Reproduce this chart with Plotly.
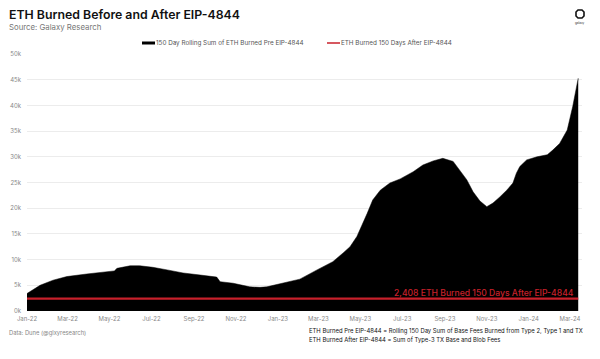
import plotly.graph_objects as go

# ---- data ----
dates = [
    "2022-01-01", "2022-01-10", "2022-01-20", "2022-02-08", "2022-02-28", "2022-03-29",
    "2022-05-02", "2022-05-08", "2022-05-12", "2022-05-31", "2022-06-14", "2022-07-03",
    "2022-07-24", "2022-08-16", "2022-09-10", "2022-10-04", "2022-10-09", "2022-10-28",
    "2022-11-21", "2022-12-06", "2022-12-16", "2023-01-08", "2023-02-02", "2023-02-27",
    "2023-03-22", "2023-04-06", "2023-04-16", "2023-04-26", "2023-05-05", "2023-05-11",
    "2023-05-19", "2023-05-30", "2023-06-13", "2023-06-28", "2023-07-17", "2023-07-31",
    "2023-08-15", "2023-08-29", "2023-09-13", "2023-09-23", "2023-10-03", "2023-10-12",
    "2023-10-22", "2023-11-01", "2023-11-10", "2023-11-20", "2023-11-30", "2023-12-09",
    "2023-12-14", "2023-12-19", "2023-12-29", "2024-01-13", "2024-01-28", "2024-02-05",
    "2024-02-15", "2024-02-26", "2024-03-05", "2024-03-13",
]
eth_burned_pre = [
    3400, 4200, 5000, 6000, 6700, 7200,
    7600, 7800, 8300, 8800, 8800, 8500,
    8000, 7400, 7000, 6600, 5700, 5400,
    4700, 4600, 4700, 5400, 6200, 8000,
    9600, 11300, 12500, 14500, 17100, 19000,
    21600, 23500, 24900, 25700, 27100, 28400,
    29200, 29700, 29100, 27400, 25500, 23200,
    21400, 20300, 21000, 22200, 23500, 24900,
    26800, 28100, 29400, 30000, 30400, 31300,
    32600, 35200, 39800, 45300,
]
after_dates = ["2022-01-01", "2024-03-13"]
after_value = 2408
after_values = [after_value, after_value]

series_names = ["150 Day Rolling Sum of ETH Burned Pre EIP-4844",
                "ETH Burned 150 Days After EIP-4844"]

y_tickvals = [0, 5000, 10000, 15000, 20000, 25000, 30000, 35000, 40000, 45000, 50000]
y_ticktext = ["0k", "5k", "10k", "15k", "20k", "25k", "30k", "35k", "40k", "45k", "50k"]
x_tickvals = ["2022-01-01", "2022-03-01", "2022-05-01", "2022-07-01", "2022-09-01", "2022-11-01",
              "2023-01-01", "2023-03-01", "2023-05-01", "2023-07-01", "2023-09-01", "2023-11-01",
              "2024-01-01", "2024-03-01"]
x_ticktext = ["Jan-22", "Mar-22", "May-22", "Jul-22", "Sep-22", "Nov-22",
              "Jan-23", "Mar-23", "May-23", "Jul-23", "Sep-23", "Nov-23",
              "Jan-24", "Mar-24"]

# ---- layout geometry (window pixels; page body has an 8px margin) ----
OFF = 8
W, H = 600, 359
L, R, T, B = 27, 582, 54, 311
FONT = "Inter, Lato, sans-serif"
RED = "#c8202b"


def px_x(x):
    return (x - L) / (R - L)


def px_y(y):
    return (B - y) / (B - T)


fig = go.Figure()
fig.add_trace(go.Scatter(
    x=dates, y=eth_burned_pre, mode="lines", fill="tozeroy",
    line=dict(color="#000000", width=0.5), fillcolor="#000000",
    name=series_names[0], showlegend=False,
))
fig.add_trace(go.Scatter(
    x=after_dates, y=after_values, mode="lines",
    line=dict(color=RED, width=2.2),
    name=series_names[1], showlegend=False,
))


def note(text, x, y, size, color, weight=None, anchor="left"):
    f = dict(family=FONT, size=size, color=color)
    if weight:
        f["weight"] = weight
    return dict(text=text, x=px_x(x), y=px_y(y), xref="paper", yref="paper",
                xanchor=anchor, yanchor="middle", showarrow=False, borderpad=0, font=f)


annotations = [
    note("ETH Burned Before and After EIP-4844", 8, 14, 12.3, "#111111", 600),
    note("Source: Galaxy Research", 8, 27, 7.8, "#777777"),
    note("Data: Dune (@glxyresearch)", 8, 333, 5.8, "#888888"),
    note("ETH Burned Pre EIP-4844 = Rolling 150 Day Sum of Base Fees Burned from Type 2, Type 1 and TX",
         308, 331, 5.9, "#111111"),
    note("ETH Burned After EIP-4844 = Sum of Type-3 TX Base and Blob Fees", 308, 340, 5.9, "#111111"),
    # manual legend
    note(series_names[0], 155, 43, 6.3, "#555555"),
    note(series_names[1], 340, 43, 6.3, "#555555"),
    dict(text=f"{after_value:,} ETH Burned 150 Days After EIP-4844",
         x="2024-03-08", y=after_value, xref="x", yref="y",
         xanchor="right", yanchor="bottom", yshift=0, showarrow=False, borderpad=0,
         font=dict(family=FONT, size=8.6, color=RED, weight=500)),
    note("galaxy", 580, 23.5, 3, "#333333", anchor="center"),
]

shapes = [
    # legend symbols
    dict(type="rect", xref="paper", yref="paper",
         x0=px_x(142), x1=px_x(155), y0=px_y(44.5), y1=px_y(41.5),
         line=dict(width=0), fillcolor="#000000"),
    dict(type="line", xref="paper", yref="paper",
         x0=px_x(327), x1=px_x(340), y0=px_y(43), y1=px_y(43),
         line=dict(color=RED, width=1.5)),
    # logo
    dict(type="path", xref="paper", yref="paper",
         path=(f"M {px_x(578)} {px_y(10)} L {px_x(582)} {px_y(10)} "
               f"L {px_x(584)} {px_y(12)} L {px_x(584)} {px_y(16)} "
               f"L {px_x(582)} {px_y(18)} L {px_x(578)} {px_y(18)} "
               f"L {px_x(576)} {px_y(16)} L {px_x(576)} {px_y(12)} Z"),
         line=dict(color="#111111", width=1.6), fillcolor="rgba(0,0,0,0)"),
]

fig.update_layout(
    width=W - OFF, height=H - OFF,
    margin=dict(l=L - OFF, r=W - R, t=T - OFF, b=H - B, autoexpand=False),
    paper_bgcolor="white", plot_bgcolor="white",
    font=dict(family=FONT, color="#888888", size=6),
    showlegend=False,
    xaxis=dict(type="date", range=["2022-01-01", "2024-03-18 12:00"],
               tickvals=x_tickvals, ticktext=x_ticktext, showgrid=False,
               zeroline=False, showline=False, ticks="", automargin=False,
               ticklabelstandoff=3,
               tickfont=dict(family=FONT, size=6, color="#888888")),
    yaxis=dict(range=[0, 50000], tickvals=y_tickvals, ticktext=y_ticktext,
               showgrid=True, gridcolor="#ececec", gridwidth=1, zeroline=False,
               showline=False, ticks="", ticklabelstandoff=5, automargin=False,
               tickfont=dict(family=FONT, size=6, color="#888888")),
    annotations=annotations,
    shapes=shapes,
)

fig.write_html("out.html")
